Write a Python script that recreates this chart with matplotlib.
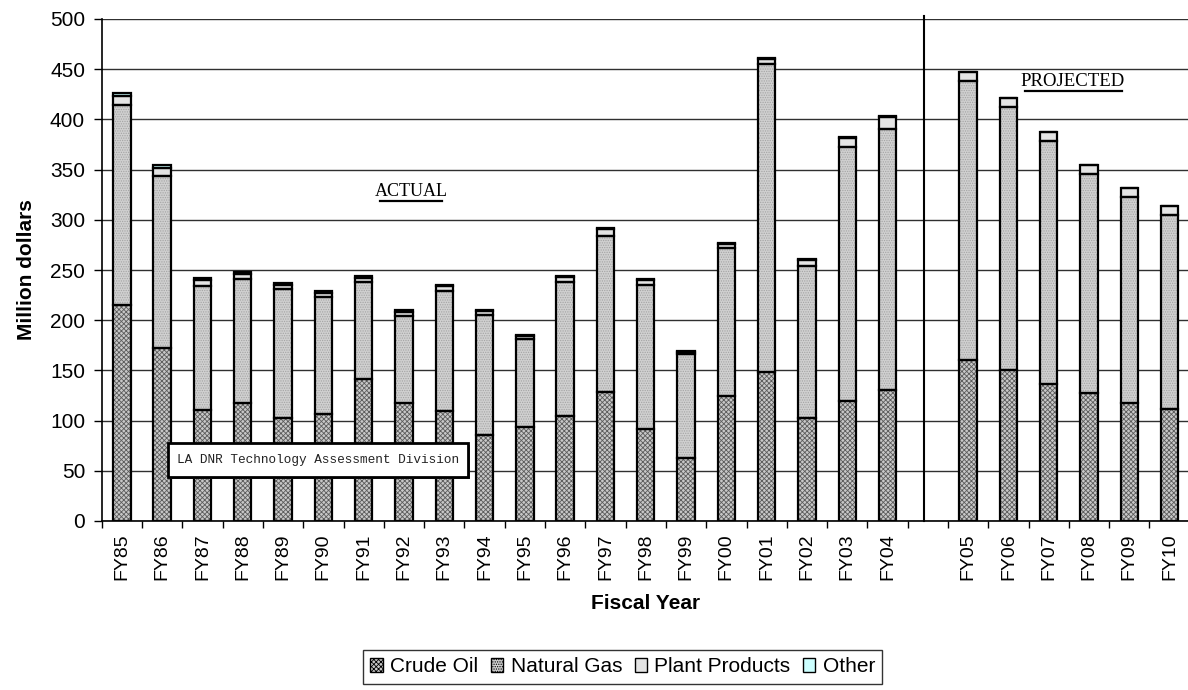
import matplotlib
matplotlib.use('Agg')
import matplotlib.pyplot as plt
from matplotlib.patches import Patch, Rectangle
from matplotlib.lines import Line2D

plt.rcParams['font.family'] = ['Liberation Sans', 'DejaVu Sans']
plt.rcParams['hatch.linewidth'] = 0.6

# ---- data (million dollars) ----
actual_years = ['FY85', 'FY86', 'FY87', 'FY88', 'FY89', 'FY90', 'FY91', 'FY92', 'FY93', 'FY94',
                'FY95', 'FY96', 'FY97', 'FY98', 'FY99', 'FY00', 'FY01', 'FY02', 'FY03', 'FY04']
projected_years = ['FY05', 'FY06', 'FY07', 'FY08', 'FY09', 'FY10']

crude_oil = [215, 172, 111, 118, 103, 107, 141, 118, 110, 86, 94, 105, 128, 92, 63, 125, 148, 103, 120, 130,
             160, 150, 136, 127, 118, 112]
natural_gas = [199, 172, 123, 123, 128, 116, 97, 86, 119, 119, 87, 133, 156, 143, 103, 147, 307, 151, 253, 260,
               278, 262, 242, 219, 205, 193]
plant_products = [9, 8, 6, 5, 4, 4, 4, 4, 5, 4, 3, 5, 7, 5, 2, 4, 5, 6, 8, 12,
                  9, 9, 9, 9, 9, 9]
other = [3, 3, 2, 2, 2, 2, 2, 2, 1, 1, 1, 1, 1, 1, 1, 1, 1, 1, 1, 1,
         0, 0, 0, 0, 0, 0]

series_names = ['Crude Oil', 'Natural Gas', 'Plant Products', 'Other']
y_ticks = [0, 50, 100, 150, 200, 250, 300, 350, 400, 450, 500]

# ---- layout ----
W, H = 1188, 690
fig = plt.figure(figsize=(W / 100, H / 100), dpi=100)
n_slots = len(actual_years) + 1 + len(projected_years)
slot_px = 40.3
ax = fig.add_axes([101.7 / W, (H - 521) / H, n_slots * slot_px / W, (521 - 19) / H])

labels = actual_years + projected_years
x = list(range(len(actual_years))) + [len(actual_years) + 1 + i for i in range(len(projected_years))]

styles = [
    dict(color='#c8c8c8', hatch='xxxxxxx', hatch_ec='#5c5c5c'),
    dict(color='#d0d0d0', hatch='.......', hatch_ec='#a4a4a4'),
    dict(color='#e4e4e4', hatch=None, hatch_ec='#e4e4e4'),
    dict(color='#ccffff', hatch=None, hatch_ec='#ccffff'),
]
bw = 0.43
bottom = [0] * len(x)
for vals, st in zip([crude_oil, natural_gas, plant_products, other], styles):
    ax.bar(x, vals, bw, bottom=bottom, color=st['color'], hatch=st['hatch'],
           edgecolor=st['hatch_ec'], linewidth=0, zorder=3)
    ax.bar(x, vals, bw, bottom=bottom, fill=False, edgecolor='black', linewidth=1.6, zorder=4)
    bottom = [b + v for b, v in zip(bottom, vals)]

ax.set_xlim(-0.5, n_slots - 0.5)
ax.set_ylim(0, 500)
ax.set_yticks(y_ticks)
ax.tick_params(axis='y', labelsize=15, length=6, width=1, direction='out', pad=6)
ax.yaxis.grid(True, color='#303030', linewidth=1)
ax.set_axisbelow(True)

ax.set_xticks([i - 0.5 for i in range(n_slots + 1)])
ax.set_xticklabels([])
ax.tick_params(axis='x', which='major', length=5, width=1, direction='out')
ax.set_xticks(x, minor=True)
ax.set_xticklabels(labels, minor=True, rotation=90, fontsize=14)
ax.tick_params(axis='x', which='minor', length=0, pad=9)

for s in ['top', 'right']:
    ax.spines[s].set_visible(False)
for s in ['left', 'bottom']:
    ax.spines[s].set_linewidth(1.2)

ax.set_ylabel('Million dollars', fontsize=15, fontweight='bold', labelpad=10)
ax.set_xlabel('Fiscal Year', fontsize=15, fontweight='bold', labelpad=10)

# divider between actual and projected
sep = len(actual_years) - 0.1
ax.plot([sep, sep], [0, 503], color='black', linewidth=1.5, clip_on=False, zorder=5)

# annotations
fig.text(411 / W, 1 - 191 / H, 'ACTUAL', fontsize=13, family='Liberation Serif',
         ha='center', va='center')
fig.add_artist(Line2D([380 / W, 442 / W], [1 - 201 / H] * 2, color='black', linewidth=1.6))
fig.text(1073 / W, 1 - 81 / H, 'PROJECTED', fontsize=13.5, family='Liberation Serif',
         ha='center', va='center')
fig.add_artist(Line2D([1025 / W, 1122 / W], [1 - 91 / H] * 2, color='black', linewidth=1.6))

fig.add_artist(Rectangle((170 / W, 1 - 479 / H), 300 / W, 34 / H, transform=fig.transFigure,
                         facecolor='#555555', edgecolor='none', zorder=9))
fig.add_artist(Rectangle((168 / W, 1 - 477 / H), 300 / W, 34 / H, transform=fig.transFigure,
                         facecolor='white', edgecolor='black', linewidth=2, zorder=10))
fig.text(318 / W, 1 - 460 / H, 'LA DNR Technology Assessment Division', fontsize=9.2,
         family='Liberation Mono', ha='center', va='center', color='#222222', zorder=11)

handles = [Patch(facecolor=st['color'], hatch=st['hatch'], edgecolor='black', linewidth=1)
           for st in styles]
leg = fig.legend(handles, series_names, loc='upper left', bbox_to_anchor=(363 / W, 1 - 650 / H),
                 ncol=4, fontsize=15, frameon=True, fancybox=False, edgecolor='black',
                 handlelength=0.6, handleheight=0.6, handletextpad=0.35, columnspacing=0.6,
                 borderpad=0.35, borderaxespad=0)
leg.get_frame().set_linewidth(1)

fig.savefig('out.png', dpi=100)
